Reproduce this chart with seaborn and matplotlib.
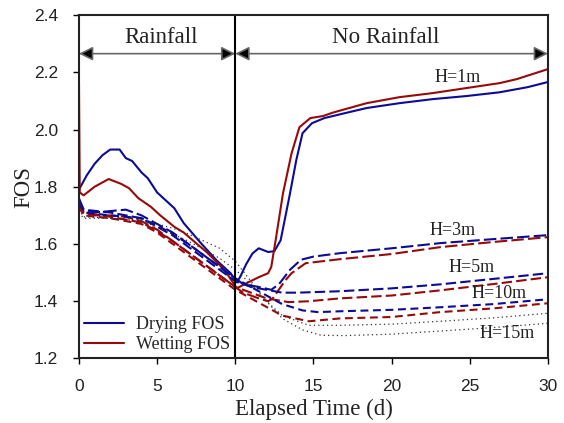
import numpy as np
import pandas as pd
import matplotlib
matplotlib.use("Agg")
import matplotlib.pyplot as plt
import seaborn as sns

# valores (tempo em dias, FOS)
t_dry_1 = [0, 0.5, 1.0, 1.5, 2.0, 2.6, 3.0, 3.4, 4.0, 4.4, 5.0, 5.4, 6.1, 6.7, 7.8, 8.8, 9.7, 10.1,
           10.3, 10.7, 11.1, 11.5, 12.1, 12.5, 12.9, 13.5, 13.9, 14.3, 14.9, 15.7, 17.0, 18.4,
           20.5, 22.6, 24.8, 26.9, 28.7, 30]
f_dry_1 = [1.79, 1.84, 1.88, 1.91, 1.93, 1.93, 1.90, 1.89, 1.85, 1.83, 1.78, 1.76, 1.725, 1.673,
           1.603, 1.543, 1.498, 1.466, 1.484, 1.53, 1.567, 1.585, 1.572, 1.575, 1.613, 1.777,
           1.893, 1.987, 2.022, 2.04, 2.057, 2.075, 2.092, 2.106, 2.117, 2.13, 2.148, 2.166]

t_wet_1 = [0, 0.05, 0.3, 1.0, 1.9, 2.7, 3.2, 3.8, 4.6, 5.2, 6.1, 6.7, 8.2, 9.3, 10.1, 10.6, 11.5,
           12.1, 12.3, 12.6, 13.05, 13.6, 14.1, 14.8, 15.6, 16.3, 18.4, 20.5, 22.6, 24.8, 26.9,
           28.0, 30]
f_wet_1 = [2.17, 1.78, 1.77, 1.80, 1.827, 1.81, 1.795, 1.76, 1.73, 1.70, 1.66, 1.64, 1.57, 1.51,
           1.445, 1.46, 1.484, 1.498, 1.52, 1.62, 1.777, 1.917, 2.008, 2.04, 2.047, 2.06, 2.092,
           2.113, 2.127, 2.145, 2.162, 2.176, 2.211]

t_dry_3 = [0, 0.3, 1, 2, 3, 4, 5, 6, 7, 8, 9, 10, 10.5, 11.5, 12.3, 12.8, 13.5, 14.2, 15, 16.7,
           20, 23.1, 26.5, 30]
f_dry_3 = [1.76, 1.72, 1.71, 1.715, 1.72, 1.70, 1.67, 1.64, 1.60, 1.56, 1.52, 1.48, 1.46, 1.45,
           1.44, 1.46, 1.51, 1.545, 1.556, 1.568, 1.585, 1.603, 1.617, 1.631]
t_wet_3 = [0, 0.3, 1, 2, 3, 4, 5, 6, 7, 8, 9, 10, 10.5, 11.5, 12.1, 12.4, 13.2, 13.6, 14.5, 16.7,
           20, 23.1, 26.5, 30]
f_wet_3 = [1.75, 1.71, 1.70, 1.70, 1.695, 1.68, 1.65, 1.61, 1.57, 1.53, 1.49, 1.45, 1.43, 1.41,
           1.40, 1.41, 1.473, 1.498, 1.533, 1.547, 1.565, 1.589, 1.607, 1.624]

t_dry_5 = [0, 0.3, 2, 4, 5, 6, 7, 8, 9, 10, 11, 12, 13, 14, 16.7, 20, 23.1, 26.5, 30]
f_dry_5 = [1.75, 1.72, 1.71, 1.69, 1.66, 1.63, 1.59, 1.55, 1.51, 1.47, 1.45, 1.44, 1.43, 1.43,
           1.435, 1.445, 1.459, 1.478, 1.498]
t_wet_5 = [0, 0.3, 2, 4, 5, 6, 7, 8, 9, 10, 11, 12, 13.4, 14.7, 16.7, 20, 23.1, 26.5, 30]
f_wet_5 = [1.74, 1.71, 1.695, 1.675, 1.645, 1.61, 1.57, 1.53, 1.49, 1.45, 1.43, 1.41, 1.397, 1.40,
           1.41, 1.42, 1.438, 1.46, 1.484]

t_dry_10 = [0, 0.3, 2, 4, 5, 6, 7, 8, 9, 10, 11, 12, 13, 14.3, 15.3, 16.7, 20, 23.1, 26.5, 30]
f_dry_10 = [1.74, 1.71, 1.70, 1.69, 1.665, 1.635, 1.60, 1.56, 1.52, 1.48, 1.45, 1.42, 1.39, 1.368,
            1.362, 1.365, 1.37, 1.379, 1.39, 1.407]
t_wet_10 = [0, 0.3, 2, 4, 5, 6, 7, 8, 9, 10, 11, 12, 13, 14.7, 16.7, 20, 23.1, 26.5, 30]
f_wet_10 = [1.73, 1.70, 1.69, 1.67, 1.64, 1.60, 1.56, 1.52, 1.48, 1.44, 1.41, 1.38, 1.35, 1.33,
            1.34, 1.345, 1.362, 1.375, 1.393]

t_dry_15 = [0, 0.3, 2, 4, 5, 6, 7, 8, 9, 10, 11, 12, 13, 14.7, 16.7, 20, 23.1, 26.5, 30]
f_dry_15 = [1.72, 1.695, 1.69, 1.685, 1.67, 1.655, 1.635, 1.61, 1.585, 1.54, 1.47, 1.40, 1.35,
            1.316, 1.316, 1.32, 1.33, 1.342, 1.358]
t_wet_15 = [0, 0.3, 2, 4, 5, 6, 7, 8, 9, 10, 11, 12, 13, 14.3, 15.5, 17, 20, 23.1, 26.5, 30]
f_wet_15 = [1.71, 1.69, 1.69, 1.68, 1.66, 1.635, 1.61, 1.58, 1.55, 1.51, 1.46, 1.40, 1.34, 1.30,
            1.281, 1.28, 1.285, 1.296, 1.308, 1.323]

rotulos_h = ["H=1m", "H=3m", "H=5m", "H=10m", "H=15m"]
pos_rotulos = [(24.2, 2.183), (23.9, 1.648), (25.1, 1.519), (26.9, 1.428), (27.4, 1.288)]

azul = "#0b0b96"
vermelho = "#960a0a"
cinza = "#333333"

sns.set_style("ticks")
plt.rcParams["font.family"] = ["Liberation Serif", "DejaVu Serif"]

fig = plt.figure(figsize=(5.64, 4.23), dpi=100)
ax = fig.add_axes([0.140, 0.1525, 0.8316, 0.812])

series = [
    (t_dry_1, f_dry_1, azul, "-", 1.5, "Drying FOS"),
    (t_wet_1, f_wet_1, vermelho, "-", 1.5, "Wetting FOS"),
    (t_dry_3, f_dry_3, azul, (0, (6.0, 2.0)), 1.5, None),
    (t_wet_3, f_wet_3, vermelho, (0, (6.0, 2.0)), 1.5, None),
    (t_dry_5, f_dry_5, azul, (0, (5.0, 2.0)), 1.5, None),
    (t_wet_5, f_wet_5, vermelho, (0, (5.0, 2.0)), 1.5, None),
    (t_dry_10, f_dry_10, azul, (0, (3.8, 2.2)), 1.5, None),
    (t_wet_10, f_wet_10, vermelho, (0, (3.8, 2.2)), 1.5, None),
    (t_dry_15, f_dry_15, cinza, (0, (1, 2.5)), 0.9, None),
    (t_wet_15, f_wet_15, cinza, (0, (1, 2.5)), 0.9, None),
]
for t, f, cor, estilo, lw, nome in series:
    df = pd.DataFrame({"t": t, "fos": f})
    sns.lineplot(data=df, x="t", y="fos", color=cor, linestyle=estilo, linewidth=lw,
                 estimator=None, sort=False, ax=ax, label=nome if nome else "_nolegend_")

ax.axvline(10, color="black", lw=1.5)

# setas de periodo
for x0, x1 in [(0, 10), (10, 30)]:
    ax.annotate("", xy=(x0, 2.265), xytext=(x1, 2.265),
                arrowprops=dict(arrowstyle="<|-|>", fc="black", ec="#666666", lw=1.2,
                                mutation_scale=21, shrinkA=0, shrinkB=0))
ax.text(5.25, 2.32, "Rainfall", ha="center", va="center", fontsize=16.5, color="#222222")
ax.text(19.6, 2.32, "No Rainfall", ha="center", va="center", fontsize=16.5, color="#222222")

for txt, (x, y) in zip(rotulos_h, pos_rotulos):
    ax.text(x, y, txt, ha="center", va="center", fontsize=13, color="#222222")

ax.set_xlim(0, 30)
ax.set_ylim(1.2, 2.4)
ax.set_xticks(np.arange(0, 31, 5))
ax.set_yticks(np.arange(1.2, 2.41, 0.2))
ax.set_yticklabels([f"{v:.1f}" for v in np.arange(1.2, 2.41, 0.2)])
ax.tick_params(direction="out", length=4, width=1, labelsize=12.5, colors="black")
ax.tick_params(axis="y", pad=11)
ax.tick_params(axis="x", pad=11)
for lab in ax.get_xticklabels() + ax.get_yticklabels():
    lab.set_family(["Liberation Sans", "DejaVu Sans"])
    lab.set_color("#222222")
for s in ax.spines.values():
    s.set_visible(True)
    s.set_color("#222222")
    s.set_linewidth(1.5)

ax.set_xlabel("Elapsed Time (d)", fontsize=16.5, labelpad=3, color="#222222")
ax.set_ylabel("FOS", fontsize=16.5, labelpad=0, color="#222222")

ax.legend(loc="lower left", bbox_to_anchor=(0.0, 0.0), frameon=False, fontsize=13,
          handlelength=2.2, handletextpad=0.65, labelspacing=0.15, borderpad=0.2,
          borderaxespad=0.1)

fig.savefig("out.png", dpi=100)
